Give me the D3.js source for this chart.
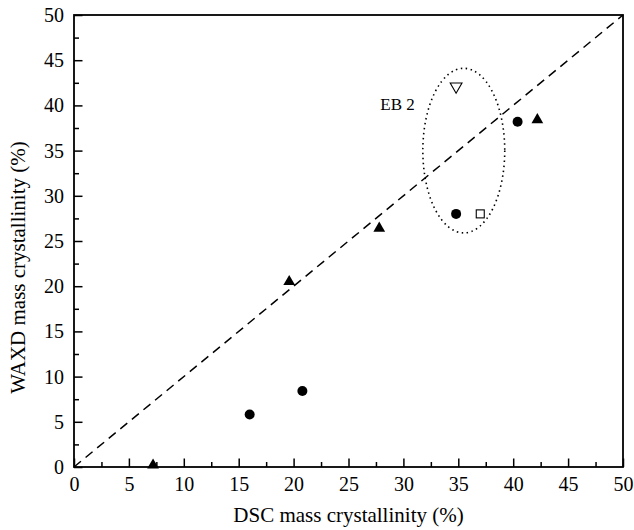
<!DOCTYPE html>
<html><head><meta charset="utf-8">
<script src="https://cdn.jsdelivr.net/npm/d3@7"></script>
<style>body{margin:0;background:#fff}svg{display:block}text{font-family:"Liberation Serif","Times New Roman",serif;fill:#000}</style>
</head><body><svg id="c" width="634" height="530"></svg>
<script>
const xTicks=[0,5,10,15,20,25,30,35,40,45,50];
const yTicks=[0,5,10,15,20,25,30,35,40,45,50];
const circles=[[16.0,5.8],[20.8,8.4],[34.8,28.0],[40.4,38.2]];
const triangles=[[7.2,0.2],[19.6,20.5],[27.8,26.4],[42.2,38.4]];
const squares=[[37.0,28.0]];
const downTriangles=[[34.8,42.1]];
const ellipse={cx:35.5,cy:35.0,rx:3.73,ry:9.1,label:"EB 2",lx:27.9,ly:39.5};
const xTitle="DSC mass crystallinity (%)";
const yTitle="WAXD mass crystallinity (%)";

const svg=d3.select("#c");
const L=74,R=623,T=15,B=467;
const x=d3.scaleLinear().domain([0,50]).range([L,R]);
const y=d3.scaleLinear().domain([0,50]).range([B,T]);
const minor=d3.range(2.5,50,5);

svg.append("rect").attr("x",L).attr("y",T).attr("width",R-L).attr("height",B-T)
 .attr("fill","none").attr("stroke","#000").attr("stroke-width",1.8);

const gx=svg.append("g").attr("transform",`translate(0,${B})`);
gx.call(d3.axisBottom(x).tickValues(xTicks).tickSize(-8.5).tickPadding(10).tickFormat(d3.format("d")));
gx.append("g").call(d3.axisBottom(x).tickValues(minor).tickSize(-5).tickFormat(""));
const gy=svg.append("g").attr("transform",`translate(${L},0)`);
gy.call(d3.axisLeft(y).tickValues(yTicks).tickSize(-8.5).tickPadding(10).tickFormat(d3.format("d")));
gy.append("g").call(d3.axisLeft(y).tickValues(minor).tickSize(-5).tickFormat(""));
svg.selectAll(".domain").remove();
svg.selectAll(".tick line").attr("stroke","#000").attr("stroke-width",1.5);
svg.selectAll(".tick text").style("font-size","20px").style("font-family",'"Liberation Serif",serif');
gx.selectAll(".tick text").attr("dy","0.71em");

// dashed diagonal
svg.append("line").attr("x1",x(0)).attr("y1",y(0)).attr("x2",x(50)).attr("y2",y(50))
 .attr("stroke","#000").attr("stroke-width",1.5).attr("stroke-dasharray","9,6");

// ellipse
svg.append("ellipse").attr("cx",x(ellipse.cx)).attr("cy",y(ellipse.cy))
 .attr("rx",x(ellipse.rx)-x(0)).attr("ry",y(0)-y(ellipse.ry))
 .attr("fill","none").attr("stroke","#000").attr("stroke-width",1.6).attr("stroke-dasharray","1.5,3.5");
svg.append("text").attr("x",x(ellipse.lx)).attr("y",y(ellipse.ly)).style("font-size","17px").text(ellipse.label);

// markers
svg.selectAll(".c").data(circles).enter().append("circle")
 .attr("cx",d=>x(d[0])).attr("cy",d=>y(d[1])).attr("r",5).attr("fill","#000");
const tri=d3.symbol().type(d3.symbolTriangle).size(60);
svg.selectAll(".t").data(triangles).enter().append("path").attr("d",tri)
 .attr("transform",d=>`translate(${x(d[0])},${y(d[1])})`).attr("fill","#000");
svg.selectAll(".s").data(squares).enter().append("rect")
 .attr("x",d=>x(d[0])-4).attr("y",d=>y(d[1])-4).attr("width",8).attr("height",8)
 .attr("fill","#fff").attr("stroke","#000").attr("stroke-width",1.1);
svg.selectAll(".d").data(downTriangles).enter().append("path").attr("d",tri)
 .attr("transform",d=>`translate(${x(d[0])},${y(d[1])}) rotate(180)`)
 .attr("fill","#fff").attr("stroke","#000").attr("stroke-width",1.1);

// titles
svg.append("text").attr("x",(L+R)/2).attr("y",522).attr("text-anchor","middle").style("font-size","21px").text(xTitle);
svg.append("text").attr("transform",`translate(25,267.5) rotate(-90)`).attr("text-anchor","middle").style("font-size","21px").text(yTitle);
</script></body></html>
